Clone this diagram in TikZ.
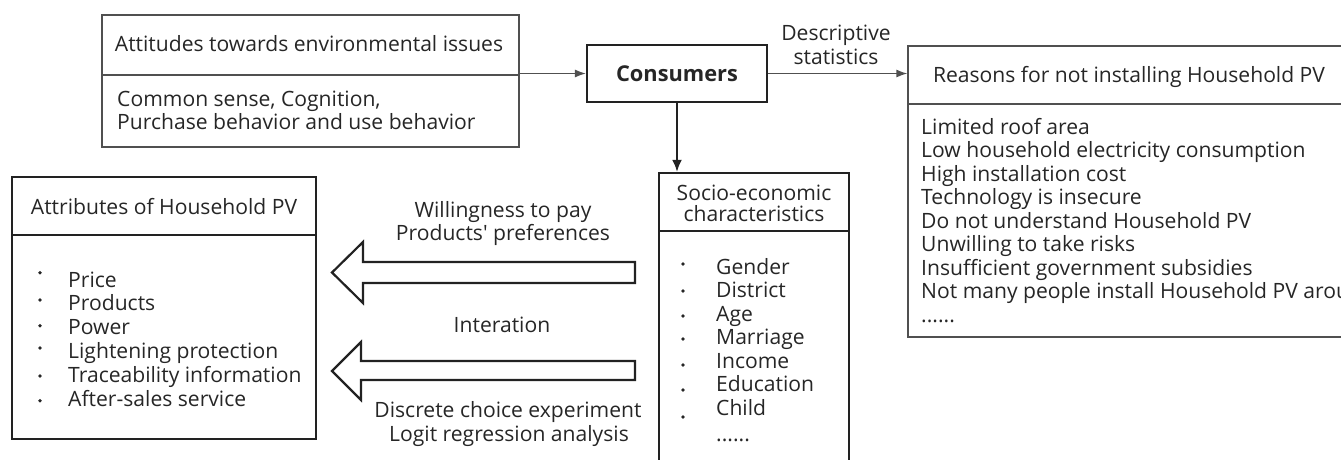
\documentclass[tikz,border=0pt]{standalone}
\usepackage{fontspec}
\setmainfont{Open Sans}
\usetikzlibrary{arrows.meta}
\definecolor{txt}{HTML}{262626}
\definecolor{thinc}{HTML}{505050}
\definecolor{thickc}{HTML}{222222}
\newcommand\dgfont{\fontsize{21.1}{23.5}\selectfont}
\newcommand\dgbold{\fontsize{21.8}{24}\selectfont\bfseries}
\begin{document}
\begin{tikzpicture}[x=1pt,y=-1pt,
  every node/.style={font=\dgfont, text=txt, inner sep=0pt},
  thinbox/.style={draw=thinc, line width=1.3pt, rectangle},
  thickbox/.style={draw=thickc, line width=2.2pt, rectangle},
  thinline/.style={draw=thinc, line width=1.3pt},
  thickline/.style={draw=thickc, line width=2.2pt},
  lbl/.style={anchor=base west},
  clbl/.style={anchor=base},
  bul/.style={circle, fill=txt, minimum size=3.6pt, inner sep=0pt},
  conn/.style={draw=thinc, line width=1.3pt, -{Latex[length=11pt,width=8pt]}},
  connthick/.style={draw=thickc, line width=2.2pt, -{Latex[length=12pt,width=10pt]}},
  blockarrow/.style={draw=thickc, line width=2.2pt, fill=white, line join=miter}
]
\useasboundingbox (0,0) rectangle (1341,459);
\clip (0,0) rectangle (1341,459);

% Attitudes box
\node[thinbox, minimum width=417pt, minimum height=132pt] (att) at (310.5,81) {};
\draw[thinline] (102,75) -- (519,75);
\node[clbl] (attT) at (309,51) {Attitudes towards environmental issues};
\node[lbl] (attB1) at (117,106) {Common sense, Cognition,};
\node[lbl] (attB2) at (117,129) {Purchase behavior and use behavior};

% Consumers
\node[thickbox, minimum width=180pt, minimum height=57pt, font=\dgbold] (cons) at (677,73.5) {Consumers};
\draw[conn] (att.east |- cons.west) -- (cons.west);

% Reasons box
\node[thinbox, minimum width=452pt, minimum height=291pt] (rea) at (1134,191.5) {};
\draw[thinline] (908,104) -- (1360,104);
\draw[conn] (cons.east) -- (rea.west |- cons.east);
\node[clbl] (desc1) at (836,40) {Descriptive};
\node[clbl] (desc2) at (836,64) {statistics};
\node[clbl] (reaT) at (1129,82) {Reasons for not installing Household PV};
\foreach \t [count=\i] in {Limited roof area,
  Low household electricity consumption,
  High installation cost,
  Technology is insecure,
  Do not understand Household PV,
  Unwilling to take risks,
  Insufficient government subsidies,
  Not many people install Household PV around}
  \node[lbl] (rea\i) at (921,{134+23.5*(\i-1)}) {\t};
\node[lbl] (reaD) at (921,322) {......};

% Socio-economic box
\node[thickbox, minimum width=190pt, minimum height=297pt] (soc) at (754,321.5) {};
\draw[thickline] (659,231) -- (849,231);
\draw[connthick] (cons.south) -- (soc.north -| cons.south);
\node[clbl] (socT1) at (754,200) {Socio-economic};
\node[clbl] (socT2) at (754,221) {characteristics};
\foreach \t/\b [count=\i] in {Gender/264, District/291, Age/316, Marriage/339, Income/365, Education/390, Child/417}{
  \node[lbl] (soc\i) at (716,{274+23.5*(\i-1)}) {\t};
  \node[bul] (socb\i) at (683,\b) {};
}
\node[lbl] (socD) at (716,441) {......};

% Attributes box
\node[thickbox, minimum width=304pt, minimum height=262pt] (attr) at (164,308) {};
\draw[thickline] (12,235) -- (316,235);
\node[clbl] (attrT) at (164,214) {Attributes of Household PV};
\foreach \t/\b [count=\i] in {Price/272.7, Products/300, Power/325.7, Lightening protection/348, Traceability information/376, After-sales service/400.7}{
  \node[lbl] (attr\i) at (68,{287+23.8*(\i-1)}) {\t};
  \node[bul] (attrb\i) at (40,\b) {};
}

% Block arrows
\draw[blockarrow] (635,262) -- (363,262) -- (363,242) -- (332,272.5) -- (363,303) -- (363,283) -- (635,283) -- cycle;
\draw[blockarrow] (635,361) -- (361,361) -- (361,342) -- (332,371) -- (361,400) -- (361,380) -- (635,380) -- cycle;

% Labels
\node[clbl] (w1) at (503,217) {Willingness to pay};
\node[clbl] (w2) at (503,240) {Products\textquotesingle{} preferences};
\node[clbl] (it) at (502,332) {Interation};
\node[clbl] (d1) at (508,417) {Discrete choice experiment};
\node[clbl] (d2) at (509,441) {Logit regression analysis};
\end{tikzpicture}
\end{document}
